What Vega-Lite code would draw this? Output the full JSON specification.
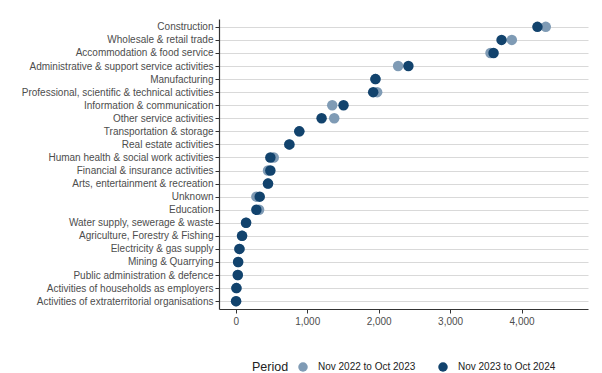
{
  "$schema": "https://vega.github.io/schema/vega-lite/v6.json",
  "width": 369,
  "height": 290,
  "autosize": {"type": "none"},
  "padding": {"left": 219, "top": 19, "right": 14, "bottom": 64},
  "background": "white",
  "config": {
    "font": "Liberation Sans",
    "view": {"stroke": null}
  },
  "data": {
    "values": [
      {"sector": "Construction", "period": "Nov 2022 to Oct 2023", "value": 4339},
      {"sector": "Construction", "period": "Nov 2023 to Oct 2024", "value": 4222},
      {"sector": "Wholesale & retail trade", "period": "Nov 2022 to Oct 2023", "value": 3864},
      {"sector": "Wholesale & retail trade", "period": "Nov 2023 to Oct 2024", "value": 3720},
      {"sector": "Accommodation & food service", "period": "Nov 2022 to Oct 2023", "value": 3565},
      {"sector": "Accommodation & food service", "period": "Nov 2023 to Oct 2024", "value": 3608},
      {"sector": "Administrative & support service activities", "period": "Nov 2022 to Oct 2023", "value": 2272},
      {"sector": "Administrative & support service activities", "period": "Nov 2023 to Oct 2024", "value": 2416},
      {"sector": "Manufacturing", "period": "Nov 2022 to Oct 2023", "value": 1955},
      {"sector": "Manufacturing", "period": "Nov 2023 to Oct 2024", "value": 1955},
      {"sector": "Professional, scientific & technical activities", "period": "Nov 2022 to Oct 2023", "value": 1979},
      {"sector": "Professional, scientific & technical activities", "period": "Nov 2023 to Oct 2024", "value": 1923},
      {"sector": "Information & communication", "period": "Nov 2022 to Oct 2023", "value": 1350},
      {"sector": "Information & communication", "period": "Nov 2023 to Oct 2024", "value": 1508},
      {"sector": "Other service activities", "period": "Nov 2022 to Oct 2023", "value": 1378},
      {"sector": "Other service activities", "period": "Nov 2023 to Oct 2024", "value": 1201},
      {"sector": "Transportation & storage", "period": "Nov 2022 to Oct 2023", "value": 889},
      {"sector": "Transportation & storage", "period": "Nov 2023 to Oct 2024", "value": 889},
      {"sector": "Real estate activities", "period": "Nov 2022 to Oct 2023", "value": 750},
      {"sector": "Real estate activities", "period": "Nov 2023 to Oct 2024", "value": 750},
      {"sector": "Human health & social work activities", "period": "Nov 2022 to Oct 2023", "value": 531},
      {"sector": "Human health & social work activities", "period": "Nov 2023 to Oct 2024", "value": 484},
      {"sector": "Financial & insurance activities", "period": "Nov 2022 to Oct 2023", "value": 451},
      {"sector": "Financial & insurance activities", "period": "Nov 2023 to Oct 2024", "value": 484},
      {"sector": "Arts, entertainment & recreation", "period": "Nov 2022 to Oct 2023", "value": 451},
      {"sector": "Arts, entertainment & recreation", "period": "Nov 2023 to Oct 2024", "value": 451},
      {"sector": "Unknown", "period": "Nov 2022 to Oct 2023", "value": 288},
      {"sector": "Unknown", "period": "Nov 2023 to Oct 2024", "value": 335},
      {"sector": "Education", "period": "Nov 2022 to Oct 2023", "value": 326},
      {"sector": "Education", "period": "Nov 2023 to Oct 2024", "value": 288},
      {"sector": "Water supply, sewerage & waste", "period": "Nov 2022 to Oct 2023", "value": 144},
      {"sector": "Water supply, sewerage & waste", "period": "Nov 2023 to Oct 2024", "value": 144},
      {"sector": "Agriculture, Forestry & Fishing", "period": "Nov 2022 to Oct 2023", "value": 88},
      {"sector": "Agriculture, Forestry & Fishing", "period": "Nov 2023 to Oct 2024", "value": 88},
      {"sector": "Electricity & gas supply", "period": "Nov 2022 to Oct 2023", "value": 51},
      {"sector": "Electricity & gas supply", "period": "Nov 2023 to Oct 2024", "value": 51},
      {"sector": "Mining & Quarrying", "period": "Nov 2022 to Oct 2023", "value": 33},
      {"sector": "Mining & Quarrying", "period": "Nov 2023 to Oct 2024", "value": 33},
      {"sector": "Public administration & defence", "period": "Nov 2022 to Oct 2023", "value": 28},
      {"sector": "Public administration & defence", "period": "Nov 2023 to Oct 2024", "value": 28},
      {"sector": "Activities of households as employers", "period": "Nov 2022 to Oct 2023", "value": 9},
      {"sector": "Activities of households as employers", "period": "Nov 2023 to Oct 2024", "value": 9},
      {"sector": "Activities of extraterritorial organisations", "period": "Nov 2022 to Oct 2023", "value": 4},
      {"sector": "Activities of extraterritorial organisations", "period": "Nov 2023 to Oct 2024", "value": 4}
    ]
  },
  "mark": {"type": "circle", "size": 110, "opacity": 1},
  "encoding": {
    "y": {
      "field": "sector",
      "type": "nominal",
      "sort": null,
      "scale": {"type": "point", "padding": 0.6},
      "axis": {
        "title": null,
        "labelFontSize": 10,
        "labelLimit": 300,
        "labelColor": "#4d4d4d",
        "labelPadding": 2,
        "tickSize": 4,
        "tickColor": "#333333",
        "domainColor": "#333333",
        "domainWidth": 1.2,
        "grid": true,
        "gridColor": "#d9d9d9",
        "gridWidth": 1
      }
    },
    "x": {
      "field": "value",
      "type": "quantitative",
      "scale": {"domain": [-235, 4930], "nice": false, "zero": false},
      "axis": {
        "title": null,
        "values": [0, 1000, 2000, 3000, 4000],
        "format": ",.0f",
        "labelFontSize": 10,
        "labelColor": "#4d4d4d",
        "labelPadding": 3,
        "tickSize": 4,
        "tickColor": "#333333",
        "domainColor": "#333333",
        "domainWidth": 1.2,
        "grid": false
      }
    },
    "color": {
      "field": "period",
      "type": "nominal",
      "scale": {
        "domain": ["Nov 2022 to Oct 2023", "Nov 2023 to Oct 2024"],
        "range": ["#7f9bb5", "#12436d"]
      },
      "legend": {
        "title": "Period",
        "orient": "none",
        "legendX": 33,
        "legendY": 343,
        "direction": "horizontal",
        "titleOrient": "left",
        "titleFontSize": 12.5,
        "titleFontWeight": "normal",
        "titleColor": "#222222",
        "titlePadding": 9,
        "labelFontSize": 10,
        "labelColor": "#222222",
        "labelOffset": 10,
        "symbolType": "circle",
        "symbolSize": 90,
        "symbolStrokeWidth": 0,
        "columnPadding": 22
      }
    },
    "order": {"field": "period", "sort": "ascending"}
  }
}
